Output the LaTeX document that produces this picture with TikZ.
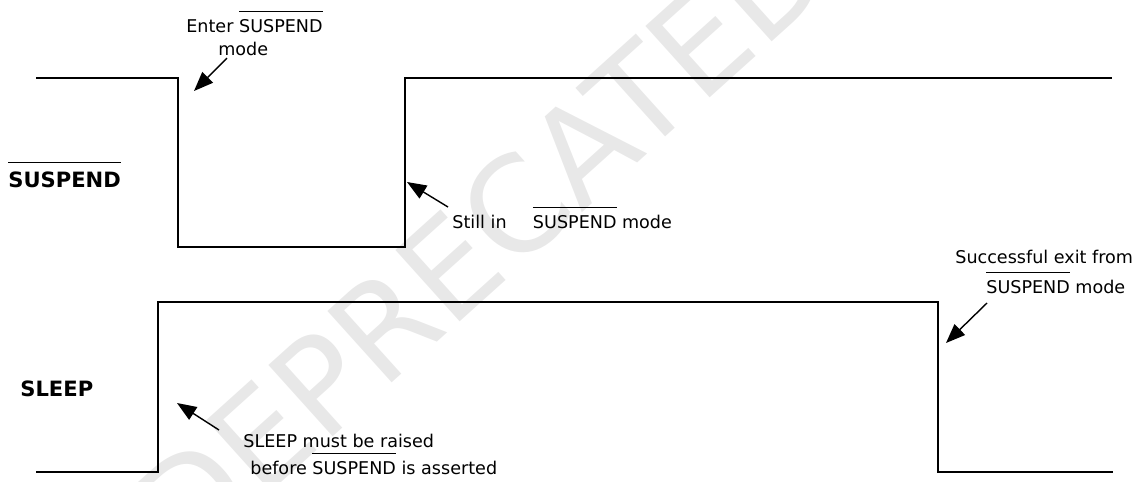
\documentclass[tikz,border=0pt]{standalone}
\usepackage{fontspec}
\setmainfont{DejaVu Sans}
\usetikzlibrary{arrows.meta}

% 訊號名稱上方的橫線 (低電位有效)
\newcommand{\sigbar}[1]{\setbox0=\hbox{#1}\rlap{\rule[1.15em]{\wd0}{0.7pt}}\box0\relax}

\begin{document}
\begin{tikzpicture}[
        % 全局座標:1 單位 = 參考圖 1 像素
        x=0.02cm, y=-0.02cm,
        % 波形樣式
        wave/.style={
            draw=black,
            line width=1.1pt,
            line join=miter
        },
        % 指示箭頭樣式
        pointer/.style={
            draw=black,
            line width=0.8pt,
            -{Triangle[length=11pt,width=8.5pt]}
        },
        % 註解文字樣式
        note/.style={
            font=\fontsize{10}{12}\selectfont,
            inner sep=0pt,
            anchor=base west
        },
        % 訊號名稱樣式
        sig_name/.style={
            font=\fontsize{12}{14}\selectfont\bfseries,
            inner sep=0pt,
            anchor=base west
        },
        % 浮水印樣式
        stamp/.style={
            font=\fontsize{75}{75}\selectfont,
            text=black!9,
            inner sep=0pt,
            rotate=42
        }
    ]
        \useasboundingbox (0,0) rectangle (1136,481);

        % ==========================
        % 浮水印
        % ==========================
        \node[stamp] (deprecated) at (480,240) {DEPRECATED};

        % ==========================
        % 1. 波形
        % ==========================
        \draw[wave] (36,78) -- (178,78) -- (178,247) -- (405,247) -- (405,78) -- (1112,78);
        \draw[wave] (36,472) -- (158,472) -- (158,302) -- (938,302) -- (938,472) -- (1113,472);

        % 2. 訊號名稱
        \node[sig_name] (suspend) at (8,187) {\sigbar{SUSPEND}};
        \node[sig_name] (sleep) at (20,396) {SLEEP};

        % ==========================
        % 3. 註解文字
        % ==========================
        \node[note] (enter1) at (186,32) {Enter \sigbar{SUSPEND}};
        \node[note] (enter2) at (218,55) {mode};

        \node[note] (still) at (452,228) {Still in\hspace{15pt}\sigbar{SUSPEND} mode};

        \node[note] (exit1) at (955,263) {Successful exit from};
        \node[note] (exit2) at (986,293) {\sigbar{SUSPEND} mode};

        \node[note] (raise1) at (243,447) {SLEEP must be raised};
        \node[note] (raise2) at (250,474) {before \sigbar{SUSPEND} is asserted};

        % 4. 箭頭端點
        \coordinate (enter_tail) at (227,58);
        \coordinate (enter_tip) at (194,91);
        \coordinate (still_tail) at (448,207);
        \coordinate (still_tip) at (407,182);
        \coordinate (exit_tail) at (987,303);
        \coordinate (exit_tip) at (946,343);
        \coordinate (raise_tail) at (219,430);
        \coordinate (raise_tip) at (177,403);

        % 5. 箭頭
        \draw[pointer] (enter_tail) -- (enter_tip);
        \draw[pointer] (still_tail) -- (still_tip);
        \draw[pointer] (exit_tail) -- (exit_tip);
        \draw[pointer] (raise_tail) -- (raise_tip);

    \end{tikzpicture}
\end{document}
